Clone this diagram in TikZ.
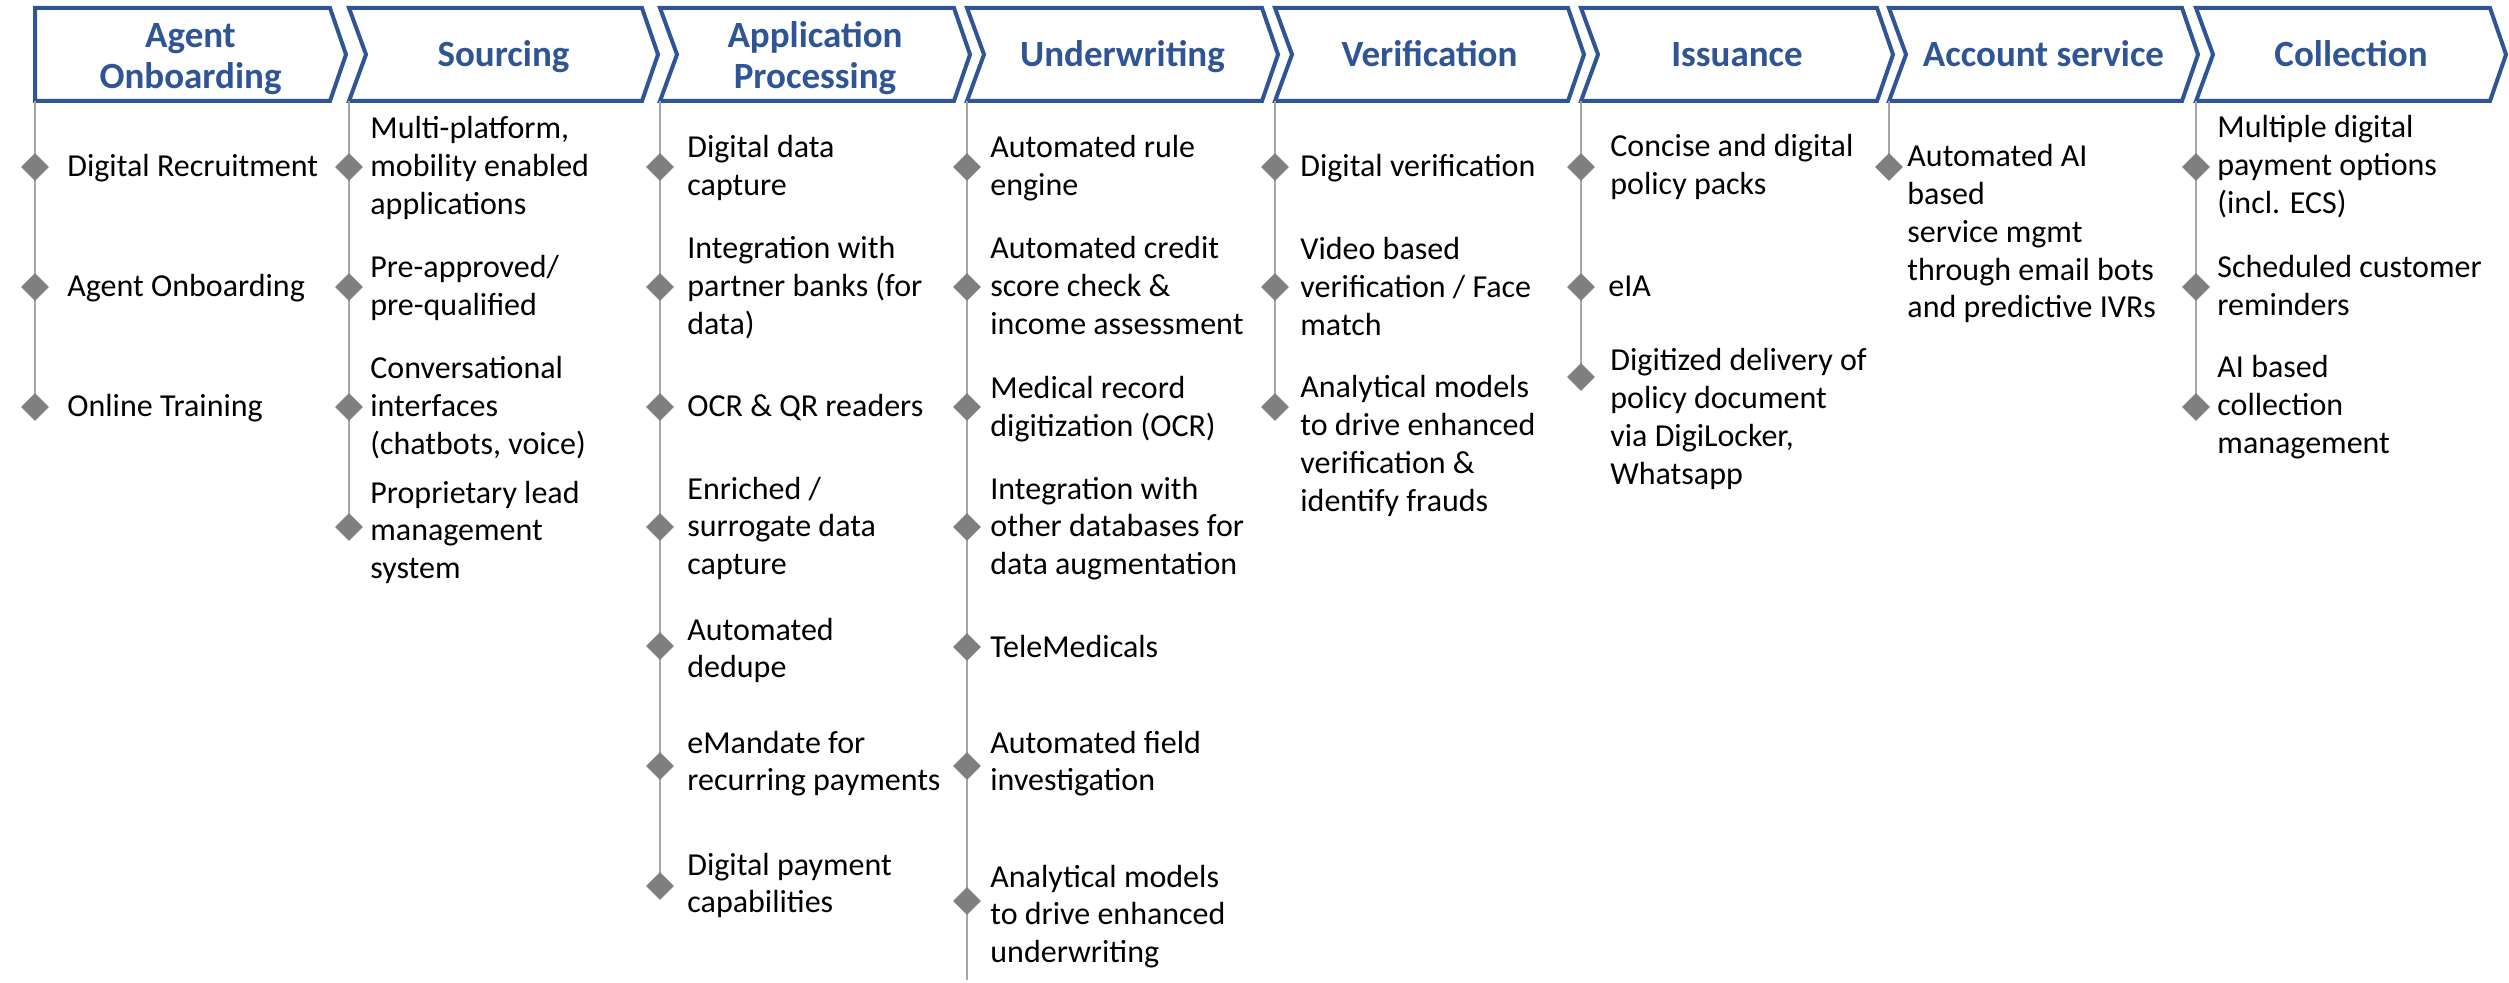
\documentclass[tikz,border=0pt]{standalone}
\usepackage{fontspec}
\setmainfont{Carlito}
\usetikzlibrary{shapes.geometric}
\definecolor{hdrblue}{HTML}{2F5597}
\definecolor{dmdgray}{HTML}{7F7F7F}
\definecolor{linegray}{HTML}{A6A6A6}
\begin{document}
\begin{tikzpicture}[x=0.5pt,y=-0.5pt,
 chev/.style={draw=hdrblue, line width=2pt, fill=white, line join=miter},
 hdr/.style={font=\fontsize{18.5}{20.8}\selectfont\bfseries, text=hdrblue, align=center, inner sep=0pt},
 item/.style={font=\fontsize{16}{18.85}\selectfont, align=left, anchor=base west, inner sep=0pt},
 dmd/.style={diamond, fill=dmdgray, minimum width=14pt, minimum height=14pt, inner sep=0pt},
 vline/.style={draw=linegray, line width=1.2pt}]
\useasboundingbox (0,0) rectangle (2509,983);

% chevrons
\draw[chev] (35,8) -- (330,8) -- (346,54.5) -- (330,101) -- (35,101) -- cycle;
\draw[chev] (349,8) -- (642,8) -- (658,54.5) -- (642,101) -- (349,101) -- (366,54.5) -- cycle;
\draw[chev] (660,8) -- (954,8) -- (970,54.5) -- (954,101) -- (660,101) -- (677,54.5) -- cycle;
\draw[chev] (967,8) -- (1262,8) -- (1278,54.5) -- (1262,101) -- (967,101) -- (984,54.5) -- cycle;
\draw[chev] (1275,8) -- (1568,8) -- (1584,54.5) -- (1568,101) -- (1275,101) -- (1292,54.5) -- cycle;
\draw[chev] (1581,8) -- (1877,8) -- (1893,54.5) -- (1877,101) -- (1581,101) -- (1598,54.5) -- cycle;
\draw[chev] (1889,8) -- (2182,8) -- (2198,54.5) -- (2182,101) -- (1889,101) -- (1906,54.5) -- cycle;
\draw[chev] (2196,8) -- (2490,8) -- (2506,54.5) -- (2490,101) -- (2196,101) -- (2213,54.5) -- cycle;

% headers
\node[hdr] (h1) at (190.5,59) {Agent\\Onboarding};
\node[hdr, anchor=base] (h2) at (503.5,66.5) {Sourcing};
\node[hdr] (h3) at (815,58) {Application\\Processing};
\node[hdr, anchor=base] (h4) at (1122.5,66.5) {Underwriting};
\node[hdr, anchor=base] (h5) at (1429.5,66.5) {Verification};
\node[hdr, anchor=base] (h6) at (1737,66.5) {Issuance};
\node[hdr, anchor=base] (h7) at (2043.5,66.5) {Account service};
\node[hdr, anchor=base] (h8) at (2351,66.5) {Collection};

% line start / end coordinates
\coordinate (b1) at (35,101);   \coordinate (e1) at (35,420);
\coordinate (b2) at (349,101);  \coordinate (e2) at (349,540);
\coordinate (b3) at (660,101);  \coordinate (e3) at (660,899);
\coordinate (b4) at (967,101);  \coordinate (e4) at (967,980);
\coordinate (b5) at (1275,101); \coordinate (e5) at (1275,420);
\coordinate (b6) at (1581,101); \coordinate (e6) at (1581,377);
\coordinate (b7) at (1889,101); \coordinate (e7) at (1889,167);
\coordinate (b8) at (2196,101); \coordinate (e8) at (2196,420);
\foreach \i in {1,...,8} \draw[vline] (b\i) -- (e\i);

% column 1
\node[dmd] (d11) at (35,167) {};
\node[dmd] (d12) at (35,287) {};
\node[dmd] (d13) at (35,407) {};
\node[item] (t11) at (67,177) {Digital Recruitment};
\node[item] (t12) at (67,297) {Agent Onboarding};
\node[item] (t13) at (67,417) {Online Training};

% column 2
\node[dmd] (d21) at (349,167) {};
\node[dmd] (d22) at (349,287) {};
\node[dmd] (d23) at (349,407) {};
\node[dmd] (d24) at (349,527) {};
\node[item] (t21) at (370,214.4) {Multi-platform,\\mobility enabled\\applications};
\node[item] (t22) at (370,315.7) {Pre-approved/\\pre-qualified};
\node[item] (t23) at (370,454.4) {Conversational\\interfaces\\(chatbots, voice)};
\node[item] (t24) at (370,578.4) {Proprietary lead\\management\\system};

% column 3
\node[dmd] (d31) at (660,167) {};
\node[dmd] (d32) at (660,287) {};
\node[dmd] (d33) at (660,407) {};
\node[dmd] (d34) at (660,527) {};
\node[dmd] (d35) at (660,646) {};
\node[dmd] (d36) at (660,766) {};
\node[dmd] (d37) at (660,886) {};
\node[item] (t31) at (687,195.7) {Digital data\\capture};
\node[item] (t32) at (687,334.4) {Integration with\\partner banks (for\\data)};
\node[item] (t33) at (687,417) {OCR \& QR readers};
\node[item] (t34) at (687,574.4) {Enriched /\\surrogate data\\capture};
\node[item] (t35) at (687,677.7) {Automated\\dedupe};
\node[item] (t36) at (687,790.7) {eMandate for\\recurring payments};
\node[item] (t37) at (687,912.7) {Digital payment\\capabilities};

% column 4
\node[dmd] (d41) at (967,167) {};
\node[dmd] (d42) at (967,287) {};
\node[dmd] (d43) at (967,407) {};
\node[dmd] (d44) at (967,527) {};
\node[dmd] (d45) at (967,647) {};
\node[dmd] (d46) at (967,766) {};
\node[dmd] (d47) at (967,901) {};
\node[item] (t41) at (990,195.7) {Automated rule\\engine};
\node[item] (t42) at (990,334.4) {Automated credit\\score check \&\\income assessment};
\node[item] (t43) at (990,436.7) {Medical record\\digitization (OCR)};
\node[item] (t44) at (990,574.4) {Integration with\\other databases for\\data augmentation};
\node[item] (t45) at (990,657) {TeleMedicals};
\node[item] (t46) at (990,790.7) {Automated field\\investigation};
\node[item] (t47) at (990,962.4) {Analytical models\\to drive enhanced\\underwriting};

% column 5
\node[dmd] (d51) at (1275,167) {};
\node[dmd] (d52) at (1275,287) {};
\node[dmd] (d53) at (1275,407) {};
\node[item] (t51) at (1300,177) {Digital verification};
\node[item] (t52) at (1300,335.4) {Video based\\verification / Face\\match};
\node[item] (t53) at (1300,511.1) {Analytical models\\to drive enhanced\\verification \&\\identify frauds};

% column 6
\node[dmd] (d61) at (1581,167) {};
\node[dmd] (d62) at (1581,287) {};
\node[dmd] (d63) at (1581,377) {};
\node[item] (t61) at (1610,194.7) {Concise and digital\\policy packs};
\node[item] (t62) at (1608,297) {eIA};
\node[item] (t63) at (1610,484.1) {Digitized delivery of\\policy document\\via DigiLocker,\\Whatsapp};

% column 7
\node[dmd] (d71) at (1889,167) {};
\node[item] (t71) at (1907,317.8) {Automated AI\\based\\service mgmt\\through email bots\\and predictive IVRs};

% column 8
\node[dmd] (d81) at (2196,167) {};
\node[dmd] (d82) at (2196,287) {};
\node[dmd] (d83) at (2196,407) {};
\node[item] (t81) at (2217,213.4) {Multiple digital\\payment options\\(incl. ECS)};
\node[item] (t82) at (2217,315.7) {Scheduled customer\\reminders};
\node[item] (t83) at (2217,453.4) {AI based\\collection\\management};
\end{tikzpicture}
\end{document}
